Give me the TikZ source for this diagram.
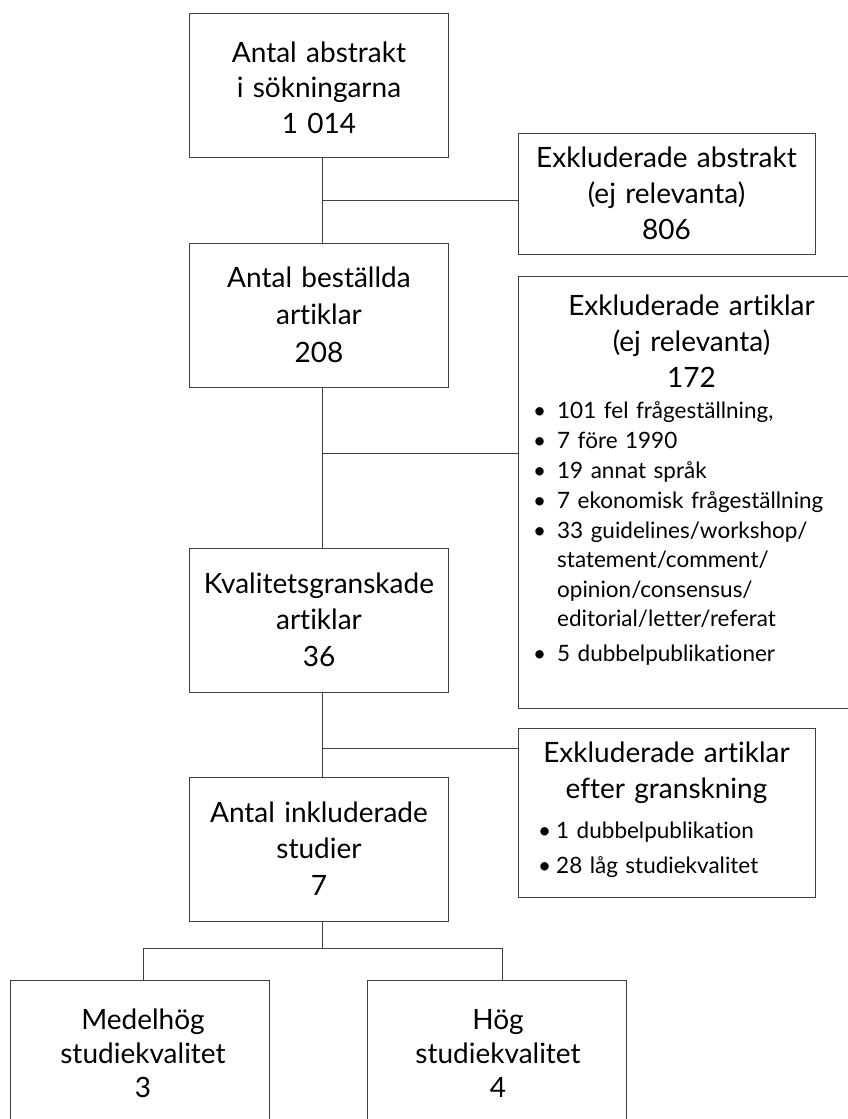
\documentclass[tikz,border=0pt]{standalone}
\usepackage{fontspec}
\setmainfont[Ligatures=NoCommon]{Lato}
\newcommand\bulx[1]{\leavevmode\llap{\makebox[#1][l]{\textbullet}}}
\begin{document}
\begin{tikzpicture}[x=1pt,y=-1pt,
  box/.style={draw=black!75, line width=1pt, inner sep=0pt, rectangle},
  conn/.style={draw=black!75, line width=1pt},
  ttl/.style={anchor=base, inner sep=0pt, text width=#1, align=center},
  lst/.style={anchor=base west, inner sep=0pt, text width=#1, align=left},
  bigf/.style={font=\fontsize{28}{#1}\selectfont},
  smallf/.style={font=\fontsize{22.5}{#1}\selectfont}]
\useasboundingbox (0,0) rectangle (848,1119);
\clip (0,0) rectangle (848,1119);
\fill[white] (0,0) rectangle (848,1119);

% boxes
\node[box, minimum width=258.5pt, minimum height=144pt] (b1) at (318.75,85) {};
\node[box, minimum width=297pt, minimum height=121pt] (b2) at (666.5,193.5) {};
\node[box, minimum width=258.5pt, minimum height=144pt] (b3) at (318.75,315) {};
\node[box, minimum width=347pt, minimum height=432pt] (b4) at (691.5,492) {};
\node[box, minimum width=258.5pt, minimum height=144pt] (b5) at (318.75,620) {};
\node[box, minimum width=297pt, minimum height=169pt] (b6) at (666.5,812.5) {};
\node[box, minimum width=258.5pt, minimum height=144pt] (b7) at (318.75,849) {};
\node[box, minimum width=258.5pt, minimum height=145pt] (b8) at (139.75,1052.5) {};
\node[box, minimum width=259pt, minimum height=145pt] (b9) at (496.5,1052.5) {};

% texts
\node[ttl=300pt, bigf=35.5] (t1) at (319,62) {Antal abstrakt\\i sökningarna\\1 014};
\node[ttl=320pt, bigf=35.7] (t2) at (666.5,167.7) {Exkluderade abstrakt\\(ej relevanta)\\806};
\node[ttl=300pt, bigf=37.5] (t3) at (319,287) {Antal beställda\\artiklar\\208};
\node[ttl=340pt, bigf=36] (t4) at (691.5,315) {Exkluderade artiklar\\(ej relevanta)\\172};
\node[lst=300pt, smallf=30] (l4) at (557,418) {%
\bulx{24pt}101 fel frågeställning,\\
\bulx{24pt}7 före 1990\\
\bulx{24pt}19 annat språk\\
\bulx{24pt}7 ekonomisk frågeställning\\
\bulx{24pt}33 guidelines/workshop/\\[-0.5pt]
statement/comment/\\[-0.5pt]
opinion/consensus/\\[-0.5pt]
editorial/letter/referat\\[5pt]
\bulx{24pt}5 dubbelpublikationer};
\node[ttl=300pt, bigf=36.7] (t5) at (319,593) {Kvalitetsgranskade\\artiklar\\36};
\node[ttl=320pt, bigf=36] (t6) at (666.5,762) {Exkluderade artiklar\\efter granskning};
\node[lst=260pt, smallf=35] (l6) at (556,838) {%
\bulx{18pt}1 dubbelpublikation\\
\bulx{18pt}28 låg studiekvalitet};
\node[ttl=300pt, bigf=36.5] (t7) at (319,822) {Antal inkluderade\\studier\\7};
\node[ttl=260pt, bigf=34] (t8) at (143,1029) {Medelhög\\studiekvalitet\\3};
\node[ttl=260pt, bigf=34] (t9) at (498,1029) {Hög\\studiekvalitet\\4};

% connectors
\coordinate (spine) at (322,0);
\draw[conn] (b1.south -| spine) -- (b3.north -| spine);
\draw[conn] (b3.south -| spine) -- (b5.north -| spine);
\draw[conn] (b5.south -| spine) -- (b7.north -| spine);
\coordinate (j1) at (322,200);
\coordinate (j2) at (322,453);
\coordinate (j3) at (322,748);
\draw[conn] (j1) -- (j1 -| b2.west);
\draw[conn] (j2) -- (j2 -| b4.west);
\draw[conn] (j3) -- (j3 -| b6.west);
\coordinate (bus) at (322,948);
\coordinate (lv) at (143,0);
\coordinate (rv) at (502,0);
\draw[conn] (b7.south -| spine) -- (bus);
\draw[conn] (lv |- b8.north) -- (lv |- bus) -- (rv |- bus) -- (rv |- b9.north);
\end{tikzpicture}
\end{document}
